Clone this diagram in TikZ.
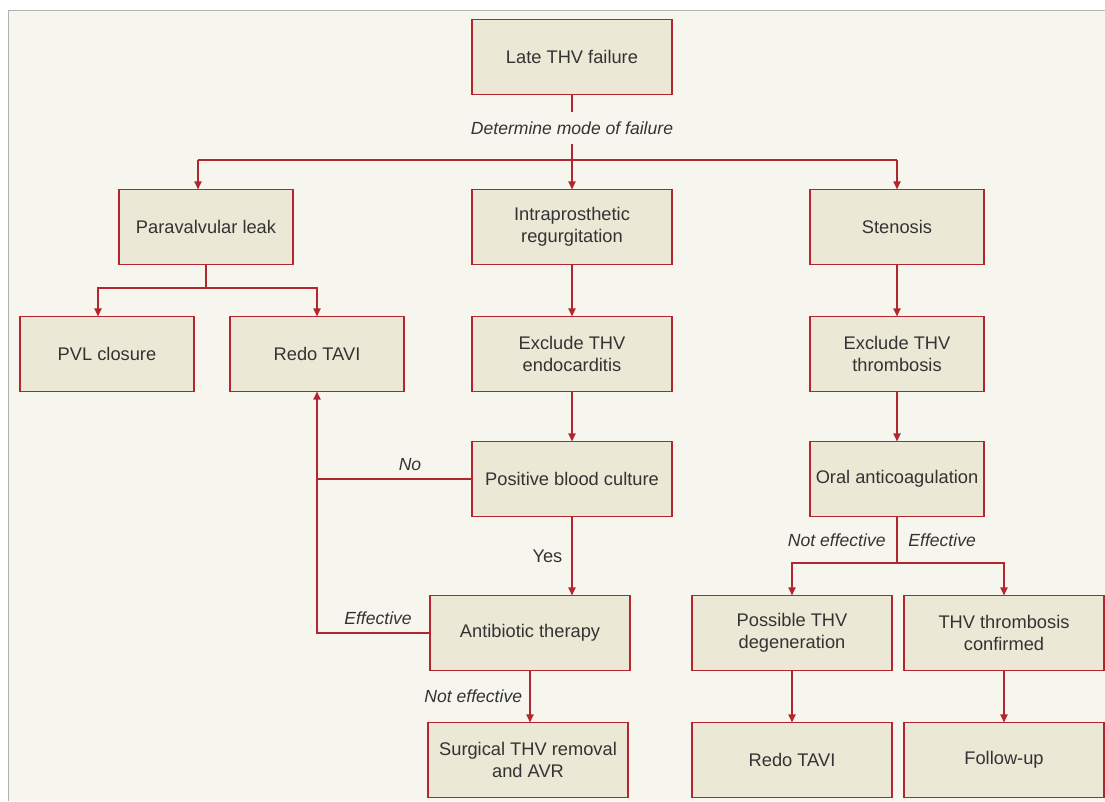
\documentclass[tikz,border=0pt]{standalone}
\usepackage{fontspec}
\setmainfont{Liberation Sans}
\usetikzlibrary{arrows.meta,calc}
\definecolor{flowred}{HTML}{B3262F}
\definecolor{boxfill}{HTML}{ECE8D6}
\definecolor{paper}{HTML}{F6F5EE}
\definecolor{ink}{HTML}{333333}
\tikzset{
  box/.style={draw=flowred, fill=boxfill, line width=0.7pt, text=ink, align=center,
    minimum width=4cm, minimum height=1.5cm, inner sep=0pt, outer sep=0pt},
  narrow/.style={box, minimum width=3.48cm},
  line/.style={draw=flowred, line width=1pt},
  arr/.style={line, -{Triangle[length=4.6pt,width=4pt]}},
  lbl/.style={text=ink, font=\itshape, inner sep=2pt}
}
\begin{document}
\begin{tikzpicture}[x=0.02cm, y=-0.02cm, font=\fontsize{10.4}{12.5}\selectfont]
\useasboundingbox (0,0) rectangle (1105,801);
\fill[paper] (8.5,10.5) rectangle (1105,801);
\draw[black!30, line width=1pt] (8.5,801) -- (8.5,10.5) -- (1105,10.5);

\node[box] (late) at (572,57) {Late THV failure};
\node[narrow] (para) at (206,227) {Paravalvular leak};
\node[box] (intra) at (572,227) {Intraprosthetic\\regurgitation};
\node[narrow] (sten) at (897,227) {Stenosis};
\node[narrow] (pvlc) at (107,354) {PVL closure};
\node[narrow] (redoa) at (317,354) {Redo TAVI};
\node[box] (endo) at (572,354) {Exclude THV\\endocarditis};
\node[narrow] (thro) at (897,354) {Exclude THV\\thrombosis};
\node[box] (blood) at (572,479) {Positive blood culture};
\node[narrow] (oral) at (897,479) {Oral anticoagulation};
\node[box] (anti) at (530,633) {Antibiotic therapy};
\node[box] (poss) at (792,633) {Possible THV\\degeneration};
\node[box] (conf) at (1004,633) {THV thrombosis\\confirmed};
\node[box] (surg) at (528,760) {Surgical THV removal\\and AVR};
\node[box] (redob) at (792,760) {Redo TAVI};
\node[box] (follow) at (1004,760) {Follow-up};

\node[lbl, inner sep=5pt] (mode) at (572,128) {Determine mode of failure};
\coordinate (splita) at (572,160);
\coordinate (splitb) at (206,288);
\coordinate (splitc) at (897,563);
\coordinate (join) at (317,479);

\draw[line] (late) -- (mode);
\draw[arr] (mode) -- (intra);
\draw[line] (splita -| para.north) ++(-8,0) -- (splita -| sten.north);
\draw[arr] ($(para.north)+(-8,0)$) ++(0,-30) -- ($(para.north)+(-8,0)$);
\draw[arr] (splita -| sten.north) -- (sten);

\draw[line] (para) -- (splitb);
\draw[arr] (splitb) -| ($(pvlc.north)+(-9,0)$);
\draw[arr] (splitb) -| (redoa);

\draw[arr] (intra) -- (endo);
\draw[arr] (endo) -- (blood);
\draw[arr] (blood.south) -- node[left, text=ink, inner sep=5pt] {Yes} (blood.south |- anti.north);
\draw[arr] (blood.west) -- node[lbl, pos=0.4, above, inner sep=4pt] {No} (join) -- (redoa.south);
\draw[line] (anti.west) -| node[lbl, pos=0.23, above, inner sep=4pt] {Effective} (join);
\draw[arr] (anti.south) -- node[lbl, left, inner sep=4pt] {Not effective} (anti.south |- surg.north);

\draw[arr] (sten) -- (thro);
\draw[arr] (thro) -- (oral);
\draw[line] (oral) -- node[lbl, left, inner xsep=6pt] {Not effective} node[lbl, right, inner xsep=6pt] {Effective} (splitc);
\draw[arr] (splitc) -| (poss);
\draw[arr] (splitc) -| (conf);
\draw[arr] (poss) -- (redob);
\draw[arr] (conf) -- (follow);
\end{tikzpicture}
\end{document}
